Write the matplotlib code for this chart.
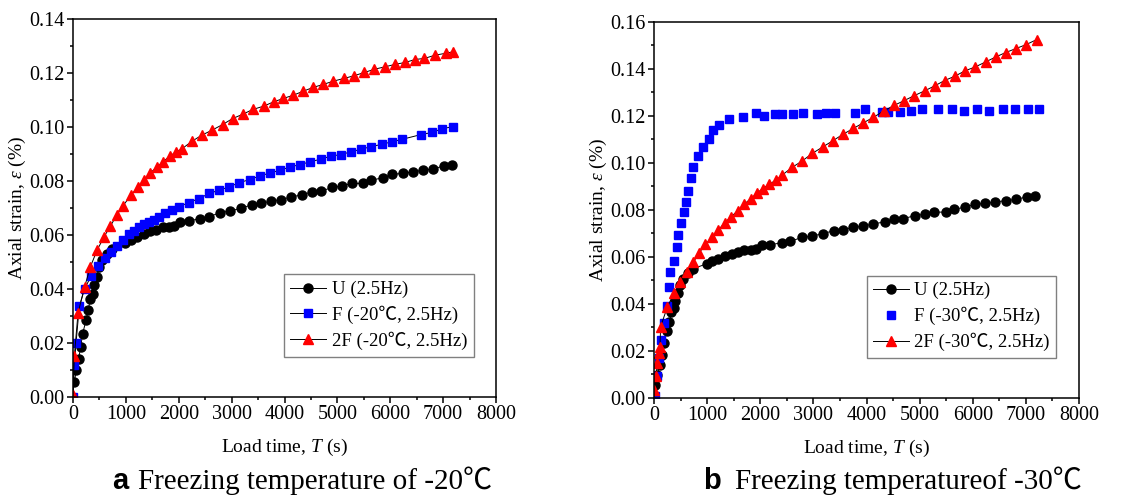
import matplotlib
matplotlib.use("Agg")
import matplotlib.pyplot as plt
from matplotlib.ticker import MultipleLocator

plt.rcParams['font.family'] = ['Liberation Serif', 'Noto Sans CJK SC']
plt.rcParams['mathtext.fontset'] = 'custom'
plt.rcParams['mathtext.rm'] = 'Liberation Serif'
plt.rcParams['mathtext.it'] = 'Liberation Serif:italic'

# U (2.5Hz) - same unfrozen reference in both panels
t_u = [25, 63, 107, 145, 183, 246, 290, 328, 372, 403, 454, 491, 548, 643, 737,
       989, 1096, 1209, 1335, 1461, 1575, 1694, 1820, 1915, 2028, 2192, 2406, 2564,
       2784, 2973, 3175, 3383, 3559, 3748, 3937, 4126, 4340, 4517, 4693, 4907, 5096,
       5272, 5493, 5644, 5858, 6041, 6236, 6425, 6627, 6816, 7017, 7175]
e_u = [0.0056, 0.0099, 0.0142, 0.0185, 0.0235, 0.0284, 0.0324, 0.0364, 0.0383, 0.0414,
       0.0445, 0.0482, 0.0506, 0.0531, 0.0550, 0.0571, 0.0583, 0.0593, 0.0605, 0.0614,
       0.0620, 0.0628, 0.0630, 0.0634, 0.0649, 0.0652, 0.0661, 0.0667, 0.0683, 0.0689,
       0.0699, 0.0712, 0.0717, 0.0726, 0.0731, 0.0741, 0.0749, 0.0760, 0.0763, 0.0776,
       0.0782, 0.0791, 0.0791, 0.0803, 0.0812, 0.0825, 0.0828, 0.0834, 0.0840, 0.0845,
       0.0856, 0.0859]

# F (-20C, 2.5Hz)
t_f20 = [0, 25, 57, 120, 220, 340, 479, 605, 718, 831, 945, 1052, 1146, 1241, 1335,
         1430, 1524, 1631, 1745, 1871, 1997, 2186, 2387, 2576, 2765, 2954, 3143, 3339,
         3540, 3729, 3918, 4107, 4296, 4485, 4687, 4876, 5065, 5260, 5449, 5638, 5839,
         6028, 6217, 6583, 6797, 6986, 7181]
e_f20 = [0.0, 0.0117, 0.0200, 0.0336, 0.0401, 0.0447, 0.0485, 0.0513, 0.0537, 0.0558,
         0.0581, 0.0602, 0.0615, 0.0628, 0.0639, 0.0649, 0.0657, 0.0667, 0.0682, 0.0692,
         0.0704, 0.0720, 0.0735, 0.0754, 0.0766, 0.0778, 0.0794, 0.0805, 0.0819, 0.0830,
         0.0840, 0.0852, 0.0861, 0.0871, 0.0881, 0.0892, 0.0898, 0.0908, 0.0918, 0.0927,
         0.0936, 0.0945, 0.0954, 0.0972, 0.0980, 0.0994, 0.1001]

# 2F (-20C, 2.5Hz)
t_2f20 = [0, 25, 95, 220, 328, 454, 586, 705, 825, 945, 1102, 1222, 1348, 1461, 1587,
          1701, 1827, 1953, 2066, 2249, 2438, 2627, 2828, 3017, 3206, 3402, 3603, 3792,
          3981, 4170, 4359, 4548, 4737, 4926, 5128, 5317, 5512, 5701, 5903, 6092, 6281,
          6470, 6646, 6848, 7049, 7194]
e_2f20 = [0.0009, 0.0151, 0.0311, 0.0408, 0.0482, 0.0543, 0.0593, 0.0632, 0.0673, 0.0708,
          0.0749, 0.0776, 0.0805, 0.0830, 0.0852, 0.0871, 0.0892, 0.0908, 0.0920, 0.0947,
          0.0970, 0.0988, 0.1009, 0.1031, 0.1047, 0.1065, 0.1077, 0.1093, 0.1106, 0.1118,
          0.1133, 0.1147, 0.1158, 0.1170, 0.1180, 0.1190, 0.1202, 0.1214, 0.1223, 0.1232,
          0.1239, 0.1250, 0.1254, 0.1266, 0.1273, 0.1279]

# F (-30C, 2.5Hz)
t_f30 = [19, 63, 94, 125, 188, 251, 289, 307, 376, 427, 458, 502, 565, 602, 634, 690,
         740, 822, 928, 1029, 1117, 1230, 1405, 1669, 1920, 2077, 2277, 2415, 2610, 2811,
         3061, 3237, 3406, 3783, 3971, 4285, 4410, 4630, 4830, 5037, 5351, 5602, 5834,
         6085, 6311, 6575, 6794, 7045, 7252]
e_f30 = [0.0007, 0.0095, 0.0170, 0.0248, 0.0319, 0.0392, 0.0474, 0.0535, 0.0585, 0.0644,
         0.0694, 0.0743, 0.0790, 0.0833, 0.0881, 0.0935, 0.0984, 0.1031, 0.1069, 0.1104,
         0.1140, 0.1161, 0.1187, 0.1196, 0.1211, 0.1201, 0.1209, 0.1209, 0.1209, 0.1213,
         0.1209, 0.1213, 0.1213, 0.1213, 0.1228, 0.1215, 0.1215, 0.1218, 0.1220, 0.1228,
         0.1231, 0.1228, 0.1222, 0.1228, 0.1222, 0.1228, 0.1228, 0.1228, 0.1228]

# 2F (-30C, 2.5Hz)
t_2f30 = [0, 38, 63, 88, 113, 125, 251, 376, 489, 615, 740, 847, 966, 1092, 1211, 1330,
          1455, 1575, 1694, 1819, 1932, 2045, 2171, 2296, 2415, 2597, 2792, 2980, 3181,
          3369, 3563, 3752, 3940, 4128, 4329, 4517, 4705, 4893, 5094, 5282, 5470, 5659,
          5853, 6048, 6242, 6430, 6619, 6813, 7007, 7202]
e_2f30 = [0.0035, 0.0095, 0.0151, 0.0191, 0.0219, 0.0304, 0.0387, 0.0446, 0.0493, 0.0535,
          0.0578, 0.0616, 0.0654, 0.0684, 0.0715, 0.0746, 0.0772, 0.0797, 0.0825, 0.0847,
          0.0871, 0.0891, 0.0910, 0.0927, 0.0949, 0.0981, 0.1009, 0.1041, 0.1069, 0.1095,
          0.1123, 0.1147, 0.1171, 0.1194, 0.1222, 0.1245, 0.1265, 0.1286, 0.1307, 0.1328,
          0.1351, 0.1369, 0.1392, 0.1409, 0.1430, 0.1451, 0.1470, 0.1487, 0.1504, 0.1525]

fig = plt.figure(figsize=(11.47, 4.98), dpi=100)
ax1 = fig.add_axes([73 / 1147, 1 - 397 / 498, 423 / 1147, 378 / 498])
ax2 = fig.add_axes([654 / 1147, 1 - 398 / 498, 425 / 1147, 376 / 498])


def style_axes(ax, ymax):
    ax.set_xlim(0, 8000)
    ax.set_ylim(0, ymax)
    ax.xaxis.set_major_locator(MultipleLocator(1000))
    ax.xaxis.set_minor_locator(MultipleLocator(500))
    ax.yaxis.set_major_locator(MultipleLocator(0.02))
    ax.yaxis.set_minor_locator(MultipleLocator(0.01))
    ax.yaxis.set_major_formatter(plt.FormatStrFormatter('%.2f'))
    ax.tick_params(which='both', direction='out', width=1.1, labelsize=14.5, pad=2,
                   top=False, right=False)
    ax.tick_params(which='major', length=4)
    ax.tick_params(which='minor', length=2.5)
    for s in ax.spines.values():
        s.set_linewidth(1.1)
    ax.set_xlabel('Load time, $\\mathit{T}$ (s)', fontsize=14, labelpad=9)
    ax.set_ylabel('Axial strain, $\\mathit{ε}$ (%)', fontsize=14, labelpad=1)


line_kw = dict(color='black', lw=0.7)

ax1.plot(t_u, e_u, marker='o', ms=6.5, mfc='black', mec='black', label='U (2.5Hz)', **line_kw)
ax1.plot(t_f20, e_f20, marker='s', ms=6, mfc='#0000ff', mec='#0000ff',
         label='F (-20℃, 2.5Hz)', **line_kw)
ax1.plot(t_2f20, e_2f20, marker='^', ms=7.5, mfc='#ff0000', mec='#ff0000',
         label='2F (-20℃, 2.5Hz)', **line_kw)
style_axes(ax1, 0.14)

ax2.plot(t_u, e_u, marker='o', ms=6.5, mfc='black', mec='black', label='U (2.5Hz)', **line_kw)
ax2.plot(t_f30, e_f30, ls='none', marker='s', ms=6, mfc='#0000ff', mec='#0000ff',
         label='F (-30℃, 2.5Hz)')
ax2.plot(t_2f30, e_2f30, marker='^', ms=7.5, mfc='#ff0000', mec='#ff0000',
         label='2F (-30℃, 2.5Hz)', **line_kw)
style_axes(ax2, 0.16)

for ax in (ax1, ax2):
    leg = ax.legend(loc='lower right', bbox_to_anchor=(0.947, 0.107), borderaxespad=0,
                    fontsize=13.5, fancybox=False, framealpha=1, edgecolor='#808080',
                    handlelength=1.9, handletextpad=0.3, labelspacing=0.4,
                    borderpad=0.35)
    leg.get_frame().set_linewidth(1.0)

fig.text(112 / 1147, 1 - 481 / 498, 'a', fontsize=21, fontweight='bold',
         family='Liberation Sans', va='center', ha='left')
fig.text(138 / 1147, 1 - 481 / 498, 'Freezing temperature of -20℃', fontsize=21,
         va='center', ha='left')
fig.text(703 / 1147, 1 - 481 / 498, 'b', fontsize=21, fontweight='bold',
         family='Liberation Sans', va='center', ha='left')
fig.text(735 / 1147, 1 - 481 / 498, 'Freezing temperatureof -30℃', fontsize=21,
         va='center', ha='left')

fig.savefig('out.png', dpi=100)
